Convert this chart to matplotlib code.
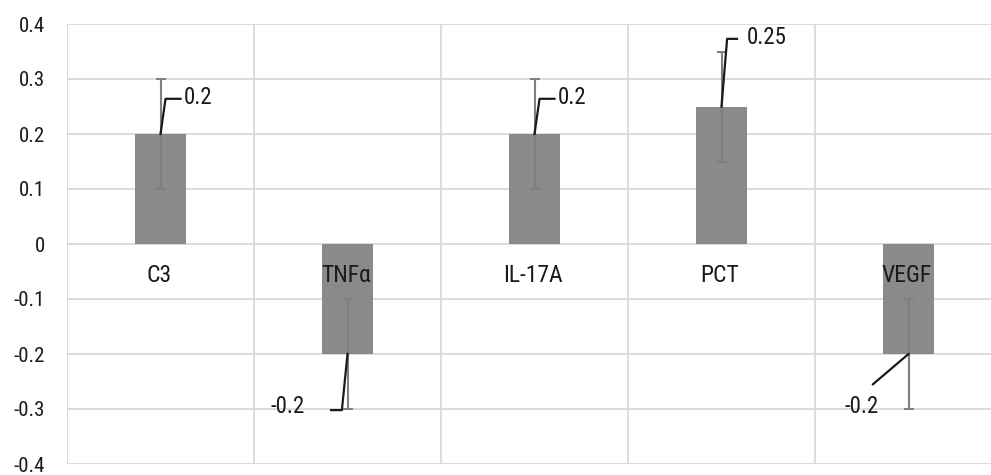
import matplotlib
matplotlib.use('Agg')
import matplotlib.pyplot as plt
import numpy as np

categories = ['C3', 'TNFα', 'IL-17A', 'PCT', 'VEGF']
values = [0.2, -0.2, 0.2, 0.25, -0.2]
errors = [0.1, 0.1, 0.1, 0.1, 0.1]
yticks = [-0.4, -0.3, -0.2, -0.1, 0, 0.1, 0.2, 0.3, 0.4]
ytick_labels = ['-0.4', '-0.3', '-0.2', '-0.1', '0', '0.1', '0.2', '0.3', '0.4']

plt.rcParams['font.family'] = ['Roboto Condensed', 'Liberation Sans', 'DejaVu Sans']

fig = plt.figure(figsize=(9.91, 4.75), dpi=100)
# plot area runs off the right edge of the picture, like the original
ax = fig.add_axes([67 / 991, 11 / 475, 935 / 991, 440 / 475])

x = np.arange(len(categories))
ax.bar(x, values, width=0.27, color='#898a8c', zorder=2)
ax.errorbar(x, values, yerr=errors, fmt='none', ecolor='#7f7f7f',
            elinewidth=1.5, capsize=3.5, capthick=1.5, zorder=3)

ax.set_xlim(-0.5, len(categories) - 0.5)
ax.set_ylim(-0.4, 0.4)
ax.set_yticks(yticks)
ax.set_yticklabels(ytick_labels, fontsize=15, color='#1a1a1a')
ax.set_xticks([])
ax.tick_params(axis='y', length=0, pad=16)
for s in ax.spines.values():
    s.set_visible(False)

grid_c = '#d9d9d9'
for yv in yticks:
    ax.axhline(yv, color=grid_c, lw=1.3, zorder=0)
for xv in np.arange(-0.5, len(categories), 1.0):
    ax.axvline(xv, color=grid_c, lw=1.3, zorder=0)

# category names sit just under the zero line
for xi, name in zip(x, categories):
    ax.text(xi - 0.01, -0.057, name, ha='center', va='center',
            fontsize=17, color='#1a1a1a', zorder=4)

# value labels with leader lines
def lbl(i, pts, tx, ty, ha):
    xs = [i + p[0] for p in pts]
    ys = [p[1] for p in pts]
    ax.plot(xs, ys, color='#1a1a1a', lw=1.6, zorder=5)
    ax.text(i + tx, ty, '%g' % values[i], ha=ha, va='center', fontsize=16.5,
            color='#1a1a1a', zorder=5)

lbl(0, [(0, values[0]), (0.027, 0.264), (0.107, 0.264)], 0.123, 0.266, 'left')
lbl(2, [(0, values[2]), (0.027, 0.264), (0.107, 0.264)], 0.123, 0.266, 'left')
lbl(3, [(0, values[3]), (0.03, 0.373), (0.083, 0.373)], 0.136, 0.375, 'left')
lbl(1, [(0, values[1]), (-0.03, -0.302), (-0.088, -0.302)], -0.227, -0.296, 'right')
lbl(4, [(0, values[4]), (-0.19, -0.255)], -0.158, -0.296, 'right')

fig.savefig('out.png', dpi=100)
